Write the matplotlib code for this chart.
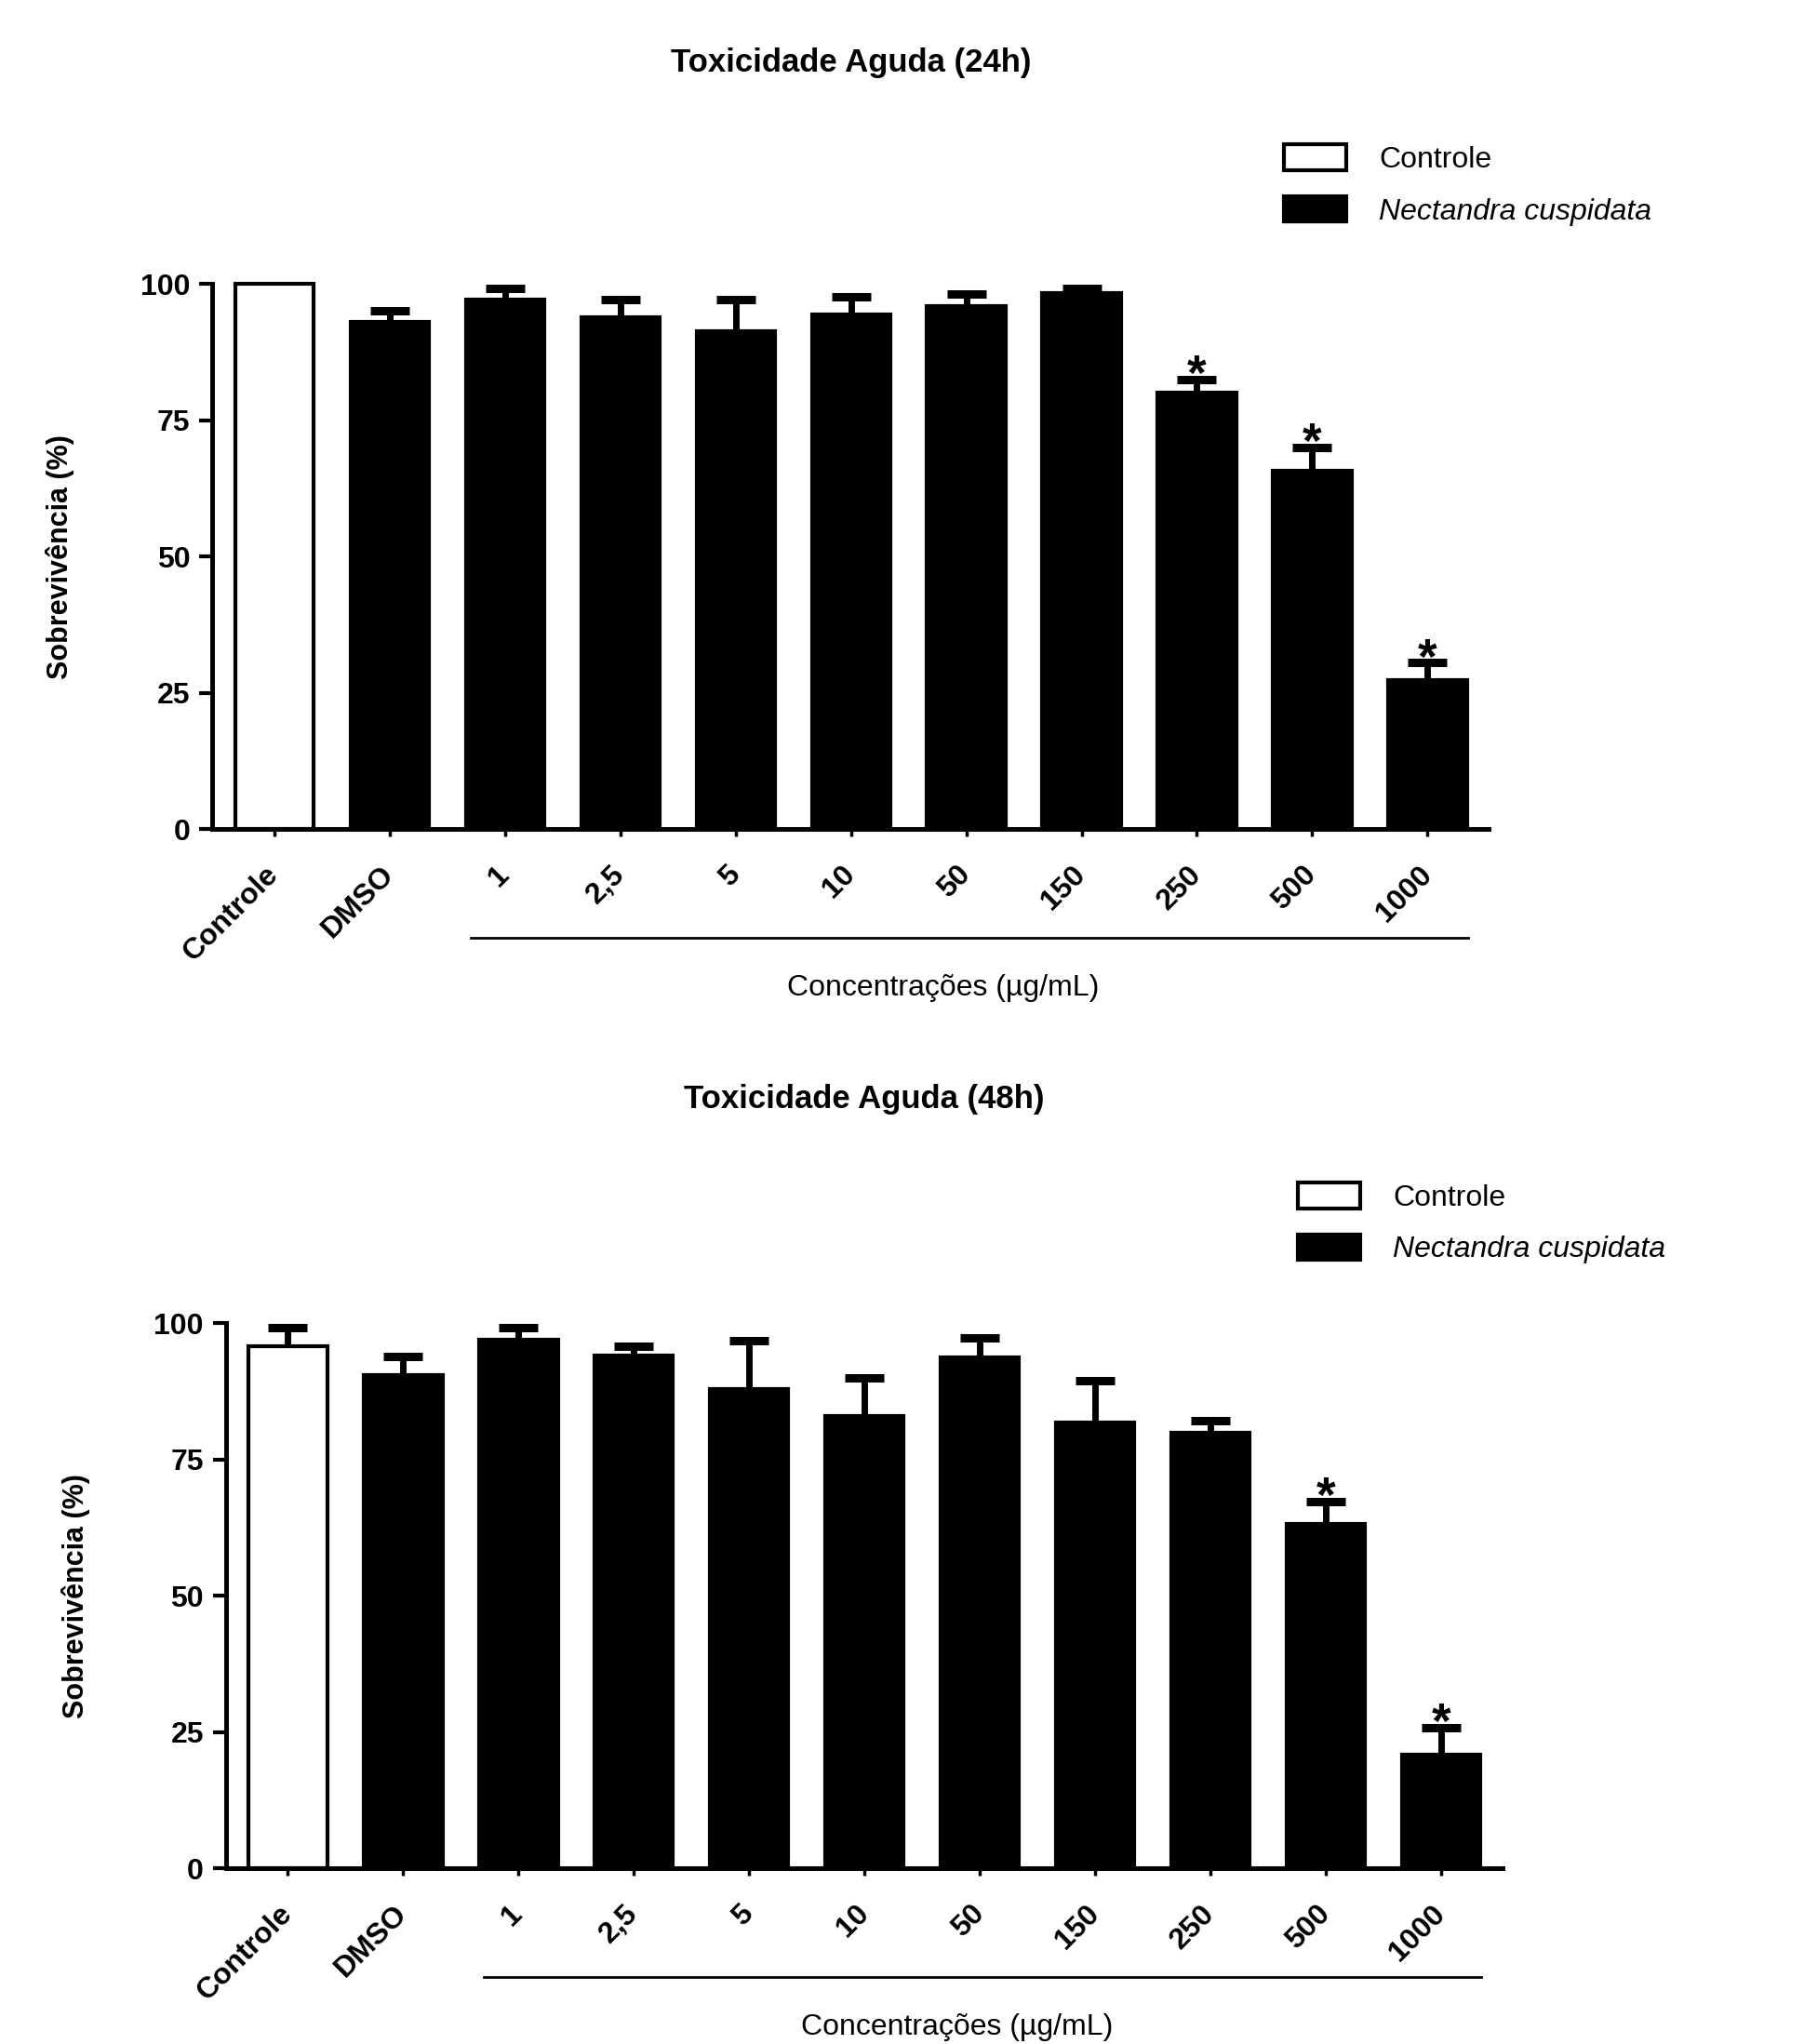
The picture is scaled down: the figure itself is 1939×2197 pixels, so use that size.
import matplotlib
matplotlib.use('Agg')
import matplotlib.pyplot as plt
import matplotlib.transforms as mtransforms
from matplotlib.patches import Patch
import numpy as np

plt.rcParams['font.family'] = ['Liberation Sans', 'DejaVu Sans']

# Data
categories = ['Controle', 'DMSO', '1', '2,5', '5', '10', '50', '150', '250', '500', '1000']
surv_24h = [100, 93.1, 97.2, 93.9, 91.4, 94.4, 96.0, 98.3, 80.0, 65.8, 27.3]
sd_24h = [0, 1.9, 2.0, 3.3, 5.7, 3.2, 2.1, 0.9, 2.5, 4.2, 3.2]
sig_24h = ['250', '500', '1000']

surv_48h = [95.8, 90.4, 97.0, 94.0, 87.9, 82.9, 93.7, 81.8, 79.9, 63.2, 20.9]
sd_48h = [3.4, 3.4, 2.2, 1.7, 8.8, 7.1, 3.6, 7.7, 2.2, 4.1, 4.9]
sig_48h = ['500', '1000']

legend_labels = ['Controle', 'Nectandra cuspidata']


def draw_panel(ax, title, means, sds, sig, title_xy, legend_xy, ylabel_x):
    x = np.arange(len(categories))
    colors = ['white'] + ['black'] * (len(categories) - 1)
    bars = ax.bar(x, means, width=0.68, color=colors, edgecolor='black',
                  linewidth=3, zorder=3)
    for b in bars:
        b.set_clip_on(False)

    # only the upper half shows: the lower half is hidden behind the bars
    sds = np.array(sds)
    idx = np.where(sds > 0)[0]
    eb = ax.errorbar(x[idx], np.array(means)[idx], yerr=sds[idx], fmt='none',
                     ecolor='black', elinewidth=5, capsize=15, capthick=6.5,
                     zorder=2)
    for art in eb.lines[1] + eb.lines[2]:
        art.set_clip_on(False)

    for cat in sig:
        i = categories.index(cat)
        ax.annotate('*', xy=(i, means[i] + sds[i]), xytext=(0, -8),
                    textcoords='offset points', ha='center', va='baseline',
                    fontsize=38, fontweight='bold', annotation_clip=False)

    ax.set_xlim(-0.54, 10.53)
    ax.set_ylim(0, 100)
    ax.set_yticks([0, 25, 50, 75, 100])
    ax.set_xticks(x)
    ax.set_xticklabels(categories, rotation=45, ha='right',
                       rotation_mode='anchor', va='center',
                       fontsize=23, fontweight='bold')
    for lab in ax.get_yticklabels():
        lab.set_fontsize(23)
        lab.set_fontweight('bold')

    for s in ['top', 'right']:
        ax.spines[s].set_visible(False)
    for s in ['left', 'bottom']:
        ax.spines[s].set_linewidth(3.6)
    ax.tick_params(axis='x', length=6, width=2.5, pad=26)
    ax.tick_params(axis='y', length=10, width=3, pad=7)

    ax.set_ylabel('Sobrevivência (%)', fontsize=22, fontweight='bold')
    ax.yaxis.set_label_coords(ylabel_x, 0.5)

    # bracket under the concentrations
    trans = mtransforms.blended_transform_factory(ax.transData, ax.transAxes)
    ax.plot([1.7, 10.35], [-0.2, -0.2], color='black', lw=2,
            transform=trans, clip_on=False)
    ax.text(5.8, -0.292, 'Concentrações (µg/mL)', transform=trans,
            ha='center', va='center', fontsize=23)

    fig.text(title_xy[0], title_xy[1], title, ha='center', va='center',
             fontsize=25, fontweight='bold')

    handles = [Patch(facecolor='white', edgecolor='black', linewidth=3),
               Patch(facecolor='black', edgecolor='black', linewidth=3)]
    leg = fig.legend(handles, legend_labels, loc='upper left',
                     bbox_to_anchor=legend_xy, frameon=False, fontsize=23,
                     handlelength=2.1, handleheight=0.95, handletextpad=1.1,
                     labelspacing=0.75, borderpad=0, borderaxespad=0)
    leg.get_texts()[1].set_style('italic')


fig = plt.figure(figsize=(19.39, 21.97), dpi=100)
ax1 = fig.add_axes([0.1176, 0.5944, 0.7076, 0.2667])
ax2 = fig.add_axes([0.1251, 0.0860, 0.7076, 0.2667])

draw_panel(ax1, 'Toxicidade Aguda (24h)', surv_24h, sd_24h, sig_24h,
           (0.472, 0.9695), (0.7117, 0.9294), -0.108)
draw_panel(ax2, 'Toxicidade Aguda (48h)', surv_48h, sd_48h, sig_48h,
           (0.479, 0.4624), (0.7195, 0.4215), -0.106)

fig.savefig('out.png', dpi=100)
